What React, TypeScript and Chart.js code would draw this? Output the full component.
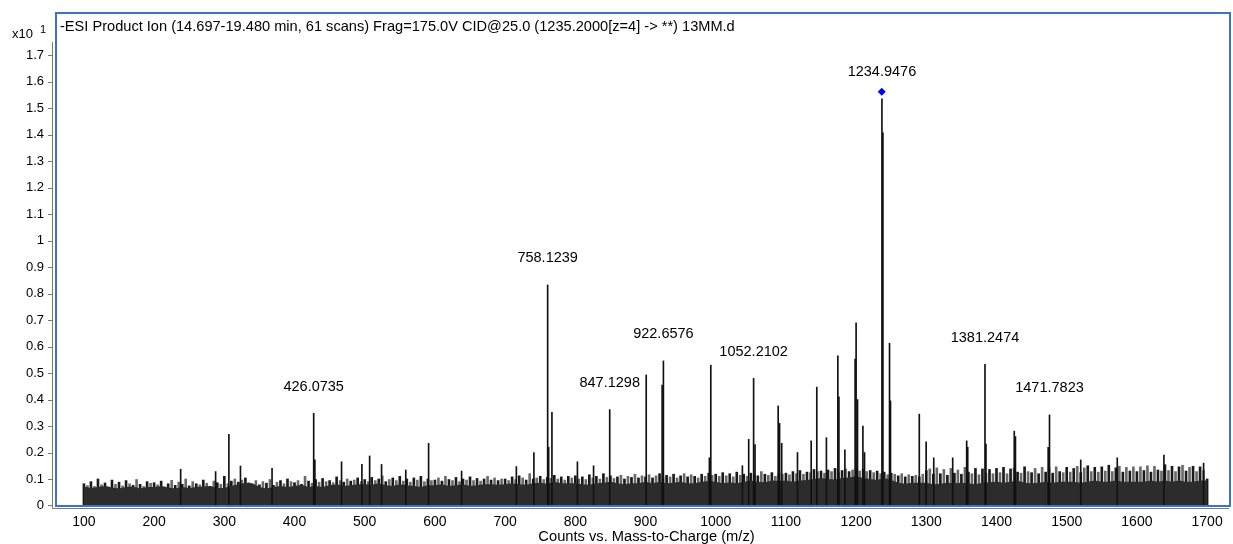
import React, { useEffect, useRef } from "react";
import { Chart, registerables } from "chart.js";

Chart.register(...registerables);

const FONT = "'Liberation Sans', Arial, Helvetica, sans-serif";

const titleText =
  "-ESI Product Ion (14.697-19.480 min, 61 scans) Frag=175.0V CID@25.0 (1235.2000[z=4] -> **) 13MM.d";
const xAxisTitle = "Counts vs. Mass-to-Charge (m/z)";
const yScaleLabel = "x10";
const yScaleExp = "1";

const xTicks = [100, 200, 300, 400, 500, 600, 700, 800, 900, 1000, 1100, 1200, 1300, 1400, 1500, 1600, 1700];
const yTicks = [0, 0.1, 0.2, 0.3, 0.4, 0.5, 0.6, 0.7, 0.8, 0.9, 1, 1.1, 1.2, 1.3, 1.4, 1.5, 1.6, 1.7];

// dense noise floor (top of the black band), one value every 10 m/z from 100 to 1700
const floorStart = 100;
const floorStep = 10;
const floorLevel = [
  0.072, 0.066, 0.070, 0.074, 0.068, 0.064, 0.070, 0.072, 0.064, 0.070,
  0.070, 0.074, 0.068, 0.064, 0.070, 0.066, 0.070, 0.072, 0.074, 0.066,
  0.066, 0.074, 0.080, 0.086, 0.084, 0.070, 0.064, 0.070, 0.074, 0.070,
  0.074, 0.078, 0.070, 0.074, 0.070, 0.076, 0.080, 0.074, 0.076, 0.080,
  0.080, 0.078, 0.084, 0.076, 0.074, 0.080, 0.076, 0.074, 0.070, 0.076,
  0.076, 0.080, 0.074, 0.076, 0.080, 0.074, 0.076, 0.080, 0.080, 0.078,
  0.080, 0.084, 0.080, 0.078, 0.084, 0.086, 0.082, 0.090, 0.084, 0.084,
  0.084, 0.080, 0.078, 0.084, 0.086, 0.090, 0.084, 0.080, 0.084, 0.084,
  0.090, 0.084, 0.090, 0.084, 0.086, 0.090, 0.084, 0.084, 0.090, 0.092,
  0.090, 0.084, 0.088, 0.084, 0.090, 0.094, 0.090, 0.088, 0.094, 0.092,
  0.094, 0.090, 0.094, 0.096, 0.100, 0.104, 0.100, 0.098, 0.104, 0.106,
  0.110, 0.104, 0.100, 0.096, 0.104, 0.096, 0.086, 0.082, 0.086, 0.086,
  0.086, 0.080, 0.082, 0.086, 0.084, 0.086, 0.084, 0.080, 0.086, 0.088,
  0.090, 0.086, 0.090, 0.094, 0.086, 0.084, 0.086, 0.090, 0.086, 0.090,
  0.090, 0.090, 0.086, 0.090, 0.094, 0.090, 0.090, 0.094, 0.090, 0.090,
  0.090, 0.090, 0.094, 0.090, 0.094, 0.090, 0.094, 0.090, 0.090, 0.094,
  0.094,
];

// noise sticks rising out of the band, one every 5 m/z from 100 to 1700
const noiseStart = 100;
const noiseStep = 5;
const noiseLevel = [
  0.082, 0.075, 0.090, 0.072, 0.100, 0.078, 0.085, 0.070, 0.096, 0.080, 0.088, 0.074, 0.094, 0.082, 0.076, 0.098, 0.080, 0.072, 0.090, 0.084,
  0.086, 0.078, 0.092, 0.070, 0.082, 0.095, 0.076, 0.088, 0.080, 0.100, 0.074, 0.090, 0.082, 0.078, 0.096, 0.084, 0.072, 0.092, 0.086, 0.080,
  0.110, 0.082, 0.092, 0.100, 0.088, 0.096, 0.104, 0.086, 0.080, 0.094, 0.078, 0.090, 0.084, 0.098, 0.076, 0.088, 0.094, 0.082, 0.100, 0.090,
  0.086, 0.094, 0.080, 0.110, 0.092, 0.084, 0.098, 0.088, 0.102, 0.090, 0.094, 0.086, 0.108, 0.094, 0.088, 0.100, 0.092, 0.096, 0.104, 0.090,
  0.098, 0.090, 0.106, 0.094, 0.100, 0.112, 0.090, 0.098, 0.104, 0.094, 0.110, 0.092, 0.100, 0.088, 0.104, 0.096, 0.110, 0.090, 0.100, 0.094,
  0.096, 0.104, 0.092, 0.110, 0.098, 0.094, 0.106, 0.090, 0.100, 0.096, 0.108, 0.094, 0.102, 0.092, 0.100, 0.110, 0.096, 0.104, 0.094, 0.100,
  0.100, 0.094, 0.108, 0.098, 0.112, 0.104, 0.096, 0.120, 0.100, 0.104, 0.110, 0.098, 0.106, 0.102, 0.114, 0.100, 0.108, 0.096, 0.110, 0.104,
  0.112, 0.100, 0.108, 0.098, 0.116, 0.104, 0.110, 0.100, 0.120, 0.106, 0.112, 0.102, 0.108, 0.114, 0.100, 0.110, 0.106, 0.118, 0.104, 0.112,
  0.108, 0.116, 0.104, 0.112, 0.120, 0.106, 0.114, 0.108, 0.118, 0.104, 0.112, 0.120, 0.108, 0.116, 0.110, 0.104, 0.118, 0.110, 0.122, 0.114,
  0.118, 0.110, 0.124, 0.112, 0.120, 0.108, 0.126, 0.114, 0.118, 0.110, 0.122, 0.116, 0.112, 0.128, 0.118, 0.114, 0.124, 0.110, 0.120, 0.118,
  0.122, 0.116, 0.128, 0.120, 0.132, 0.118, 0.126, 0.124, 0.136, 0.128, 0.130, 0.122, 0.134, 0.128, 0.140, 0.126, 0.132, 0.138, 0.128, 0.134,
  0.140, 0.130, 0.136, 0.128, 0.132, 0.124, 0.130, 0.120, 0.126, 0.116, 0.122, 0.118, 0.112, 0.120, 0.108, 0.116, 0.110, 0.114, 0.108, 0.118,
  0.132, 0.138, 0.118, 0.142, 0.120, 0.136, 0.114, 0.140, 0.122, 0.134, 0.118, 0.144, 0.126, 0.120, 0.140, 0.116, 0.138, 0.122, 0.136, 0.120,
  0.140, 0.124, 0.144, 0.120, 0.138, 0.142, 0.126, 0.122, 0.146, 0.128, 0.124, 0.140, 0.120, 0.144, 0.126, 0.142, 0.122, 0.146, 0.128, 0.124,
  0.144, 0.126, 0.140, 0.148, 0.124, 0.142, 0.150, 0.128, 0.144, 0.126, 0.146, 0.130, 0.152, 0.128, 0.142, 0.148, 0.126, 0.144, 0.130, 0.146,
  0.128, 0.146, 0.132, 0.150, 0.126, 0.148, 0.134, 0.130, 0.154, 0.132, 0.148, 0.128, 0.146, 0.152, 0.130, 0.144, 0.148, 0.128, 0.146, 0.132,
  0.100,
];

// distinct peaks (m/z, intensity x10^1)
const peakMz = [
  237.8, 287.6, 306.5, 323, 368, 427.3, 429, 467, 496, 507, 524, 558.5, 591, 638, 716, 741,
  760.6, 762, 766.7, 803, 826, 849, 901, 923.7, 925.5, 991, 993, 1038, 1047, 1054, 1056,
  1089, 1091, 1094, 1116.5, 1136, 1144, 1157.7, 1174, 1175.5, 1184, 1198.6, 1200, 1202, 1209.7, 1212,
  1236.8, 1238.2, 1247.6, 1249, 1290, 1299.8, 1310.6, 1337.6, 1357.5, 1359, 1383.6, 1385,
  1425.3, 1427, 1473.6, 1475.5, 1520, 1572, 1638.5, 1695,
];
const peakInt = [
  0.137, 0.128, 0.269, 0.149, 0.14, 0.348, 0.172, 0.165, 0.155, 0.187, 0.155, 0.134, 0.235, 0.13, 0.147, 0.2,
  0.833, 0.22, 0.352, 0.165, 0.15, 0.362, 0.493, 0.455, 0.546, 0.18, 0.53, 0.15, 0.25, 0.48, 0.23,
  0.376, 0.31, 0.235, 0.2, 0.244, 0.447, 0.256, 0.565, 0.41, 0.21, 0.553, 0.69, 0.4, 0.3, 0.2,
  1.536, 1.408, 0.613, 0.395, 0.345, 0.24, 0.18, 0.18, 0.244, 0.22, 0.533, 0.232,
  0.281, 0.26, 0.22, 0.342, 0.172, 0.18, 0.19, 0.16,
];

// annotated peaks
const labelText = ["426.0735", "758.1239", "847.1298", "922.6576", "1052.2102", "1234.9476", "1381.2474", "1471.7823"];
const labelMz = [427.3, 760.6, 849, 925.5, 1054, 1236.8, 1383.6, 1475.5];
const labelInt = [0.348, 0.833, 0.362, 0.546, 0.48, 1.536, 0.533, 0.342];

const basePeakMz = 1236.5;
const basePeakMarker = 1.563;

const fmtY = (v: number) => {
  if (Math.abs(v) < 1e-9) return "0";
  if (Math.abs(v - Math.round(v)) < 1e-9) return String(Math.round(v));
  return v.toFixed(1);
};

const zeroPad = (s: any) => {
  s.paddingTop = 0;
  s.paddingBottom = 0;
  s.paddingLeft = 0;
  s.paddingRight = 0;
};

const decorPlugin = {
  id: "decor",
  afterDatasetsDraw(chart: any) {
    const { ctx, scales } = chart;
    const xs = scales.x;
    const ys = scales.y;
    ctx.save();
    ctx.fillStyle = "#000";
    ctx.font = `14.5px ${FONT}`;
    ctx.textAlign = "center";
    ctx.textBaseline = "middle";
    for (let i = 0; i < labelText.length; i++) {
      const px = xs.getPixelForValue(labelMz[i]);
      const py = ys.getPixelForValue(labelInt[i]);
      ctx.fillText(labelText[i], px, py - 26.5);
    }
    ctx.restore();
  },
  afterDraw(chart: any) {
    const { ctx, chartArea, scales } = chart;
    const ys = scales.y;
    const xs = scales.x;
    const { left, top, right, bottom } = chartArea;
    ctx.save();
    // gray axis lines and y tick marks
    ctx.strokeStyle = "#7a7a7a";
    ctx.lineWidth = 1;
    ctx.beginPath();
    ctx.moveTo(left - 2.5, 42);
    ctx.lineTo(left - 2.5, bottom + 2.5);
    ctx.lineTo(right, bottom + 2.5);
    for (const v of yTicks) {
      const py = Math.round(ys.getPixelForValue(v)) + 0.5;
      ctx.moveTo(left - 7, py);
      ctx.lineTo(left - 2.5, py);
    }
    ctx.stroke();
    // blue frame
    ctx.strokeStyle = "#3d72c9";
    ctx.lineWidth = 2;
    ctx.strokeRect(left + 1, top + 1, right - left, bottom - top - 1);
    // title
    ctx.fillStyle = "#000";
    ctx.textAlign = "left";
    ctx.textBaseline = "alphabetic";
    ctx.font = `14.6px ${FONT}`;
    ctx.fillText(titleText, left + 5, 30.5);
    // x10^1
    ctx.font = `13px ${FONT}`;
    ctx.fillText(yScaleLabel, 12, 38);
    ctx.font = `11px ${FONT}`;
    ctx.fillText(yScaleExp, 40, 33);
    // x-axis title
    ctx.font = `14.7px ${FONT}`;
    ctx.textAlign = "center";
    ctx.textBaseline = "middle";
    const cx = xs.getPixelForValue((xTicks[0] + xTicks[xTicks.length - 1]) / 2) + 1;
    ctx.fillText(xAxisTitle, cx, 537);
    ctx.restore();
  },
};

export default function App() {
  const ref = useRef<HTMLCanvasElement | null>(null);
  useEffect(() => {
    if (!ref.current) return;
    const floorData = floorLevel.map((y, i) => ({ x: floorStart + i * floorStep, y }));
    const noiseData = noiseLevel.map((y, i) => ({ x: noiseStart + i * noiseStep, y }));
    const peakData = peakMz.map((x, i) => ({ x, y: peakInt[i] }));
    const chart = new Chart(ref.current, {
      type: "bar",
      data: {
        datasets: [
          {
            type: "scatter",
            data: [{ x: basePeakMz, y: basePeakMarker }],
            pointStyle: "rectRot",
            pointRadius: 4,
            backgroundColor: "#0000ff",
            borderColor: "#0000ff",
            borderWidth: 0,
            order: 0,
          } as any,
          {
            type: "bar",
            data: peakData,
            backgroundColor: "#111111",
            barThickness: 1,
            grouped: false,
            order: 1,
          } as any,
          {
            type: "line",
            data: floorData,
            fill: "origin",
            backgroundColor: "#2c2c2c",
            borderColor: "#2c2c2c",
            borderWidth: 0,
            pointRadius: 0,
            tension: 0,
            order: 2,
          } as any,
          {
            type: "bar",
            data: noiseData,
            backgroundColor: (c: any) => (c.dataIndex % 2 === 0 ? "#1a1a1a" : "#6a6a6a"),
            barThickness: 2,
            grouped: false,
            order: 3,
          } as any,
        ],
      },
      options: {
        animation: false,
        responsive: false,
        maintainAspectRatio: false,
        layout: { padding: { top: 12, right: 1, left: 0, bottom: 0 } },
        plugins: { legend: { display: false }, tooltip: { enabled: false }, title: { display: false } },
        events: [],
        scales: {
          x: {
            type: "linear",
            min: 58.8,
            max: 1731.2,
            offset: false,
            grid: { display: false, drawTicks: false },
            border: { display: false },
            ticks: {
              color: "#000",
              font: { family: FONT, size: 14 },
              padding: 8,
              maxRotation: 0,
              autoSkip: false,
              includeBounds: false,
              callback: (v: any) => String(v),
            },
            afterBuildTicks: (s: any) => {
              s.ticks = xTicks.map((v) => ({ value: v }));
            },
            afterFit: (s: any) => {
              s.height = 38;
              zeroPad(s);
            },
          },
          y: {
            type: "linear",
            min: -0.002,
            max: 1.864,
            grid: { display: false, drawTicks: false },
            border: { display: false },
            ticks: {
              color: "#000",
              font: { family: FONT, size: 13 },
              padding: 11,
              includeBounds: false,
              callback: (v: any) => fmtY(Number(v)),
            },
            afterBuildTicks: (s: any) => {
              s.ticks = yTicks.map((v) => ({ value: v }));
            },
            afterFit: (s: any) => {
              s.width = 55;
              zeroPad(s);
            },
          },
        },
      } as any,
      plugins: [decorPlugin],
    });
    return () => chart.destroy();
  }, []);
  return (
    <div style={{ position: "fixed", left: 0, top: 0, width: 1233, height: 544, background: "#fff" }}>
      <canvas ref={ref} width={1233} height={544} style={{ display: "block" }} />
    </div>
  );
}
